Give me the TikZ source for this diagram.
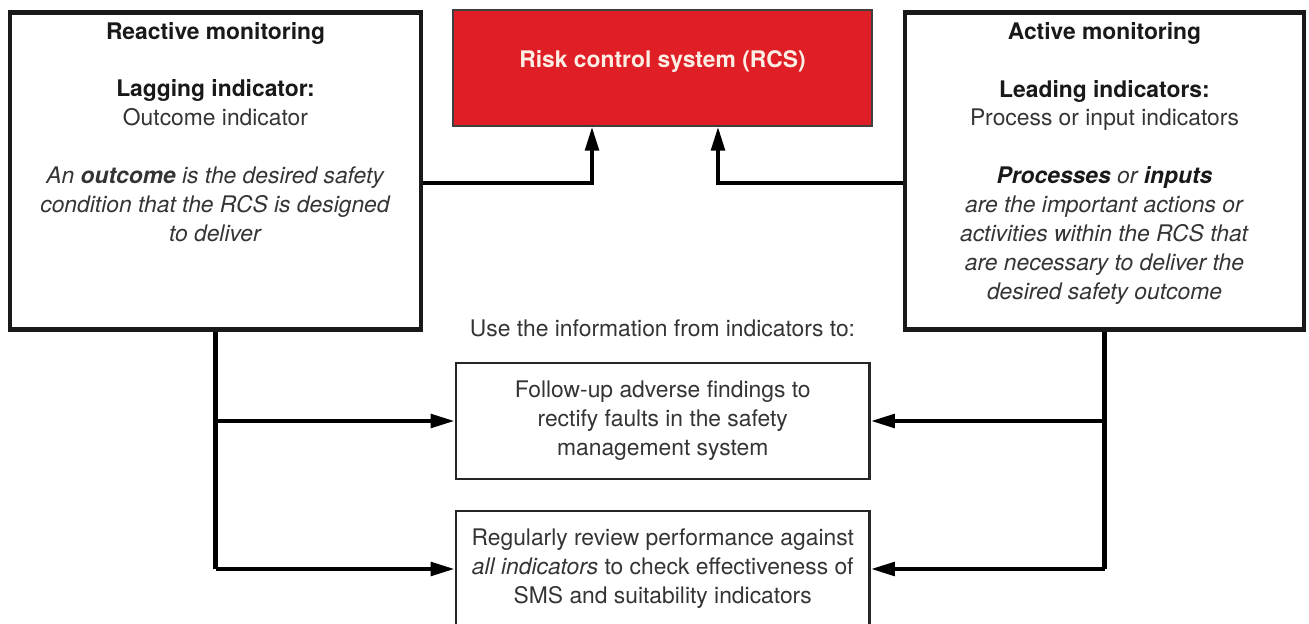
\documentclass[tikz,border=0pt]{standalone}
\usepackage{fontspec}
\setmainfont{TeX Gyre Heros}
\usetikzlibrary{arrows.meta,positioning}

\definecolor{rcsred}{RGB}{224,30,38}
\definecolor{rcstext}{RGB}{252,238,228}
\definecolor{txtgray}{RGB}{52,52,52}
\newcommand{\bodysize}{\fontsize{13}{16.5}\selectfont}

\begin{document}
\begin{tikzpicture}[x=0.02cm,y=-0.02cm,
		bigbox/.style={draw=black!90,line width=2.7pt,inner sep=0pt,minimum height=6.34cm},
		rcsbox/.style={draw=black!75,fill=rcsred,line width=0.8pt,inner sep=0pt,minimum width=8.38cm,minimum height=2.32cm},
		taskbox/.style={draw=black!85,line width=1.4pt,align=center,font=\bodysize,text=txtgray,
			minimum width=8.28cm,minimum height=2.32cm},
		boxtext/.style={align=center,font=\bodysize,text=txtgray,inner sep=0pt},
		feed/.style={line width=2.3pt},
		arr/.style={feed,-{Triangle[length=0.48cm,width=0.27cm]}}]
			\useasboundingbox (0,0) rectangle (1309,624);
			\clip (0,0) rectangle (1309,624);
			% Top row: monitoring panels and RCS
			\node[bigbox,minimum width=8.22cm] (reactive) at (215.5,171) {};
			\node[rcsbox] (rcs) at (662.5,68) {};
			\node[bigbox,minimum width=7.98cm] (active) at (1104.5,171) {};
			\node[font=\bodysize\bfseries,text=rcstext,inner sep=0pt] (rcslabel) at (662.5,61) {Risk control system (RCS)};
			% Panel texts
			\node[boxtext,below=0.23cm of reactive.north] (reactivetext) {%
				\textbf{\color{black!90}Reactive monitoring}\\[16.5pt]
				\textbf{\color{black!90}Lagging indicator:}\\
				Outcome indicator\\[16.5pt]
				\textit{An \textbf{outcome} is the desired safety}\\
				\textit{condition that the RCS is designed}\\
				\textit{to deliver}};
			\node[boxtext,below=0.23cm of active.north] (activetext) {%
				\textbf{\color{black!90}Active monitoring}\\[16.5pt]
				\textbf{\color{black!90}Leading indicators:}\\
				Process or input indicators\\[16.5pt]
				\textit{\textbf{\color{black!90}Processes} or \textbf{\color{black!90}inputs}}\\
				\textit{are the important actions or}\\
				\textit{activities within the RCS that}\\
				\textit{are necessary to deliver the}\\
				\textit{desired safety outcome}};
			% Arrows into the RCS
			\coordinate (lfeed) at (592,183);
			\coordinate (rfeed) at (718,183);
			\draw[arr] (reactive.east |- lfeed) -| (rcs.south -| lfeed);
			\draw[arr] (active.west |- rfeed) -| (rcs.south -| rfeed);
			% Lower part: use of the indicators
			\node[boxtext] (usetext) at (662.5,328) {Use the information from indicators to:};
			\node[taskbox] (followup) at (662.75,421) {Follow-up adverse findings to\\rectify faults in the safety\\management system};
			\node[taskbox] (review) at (662.75,569) {Regularly review performance against\\\textit{all indicators} to check effectiveness of\\SMS and suitability indicators};
			% Feedback lines
			\draw[feed] (reactive.south) -- (reactive.south |- review.west);
			\draw[arr] (reactive.south |- followup.west) -- (followup.west);
			\draw[arr] (reactive.south |- review.west) -- (review.west);
			\draw[feed] (active.south) -- (active.south |- review.east);
			\draw[arr] (active.south |- followup.east) -- (followup.east);
			\draw[arr] (active.south |- review.east) -- (review.east);
		\end{tikzpicture}
\end{document}
